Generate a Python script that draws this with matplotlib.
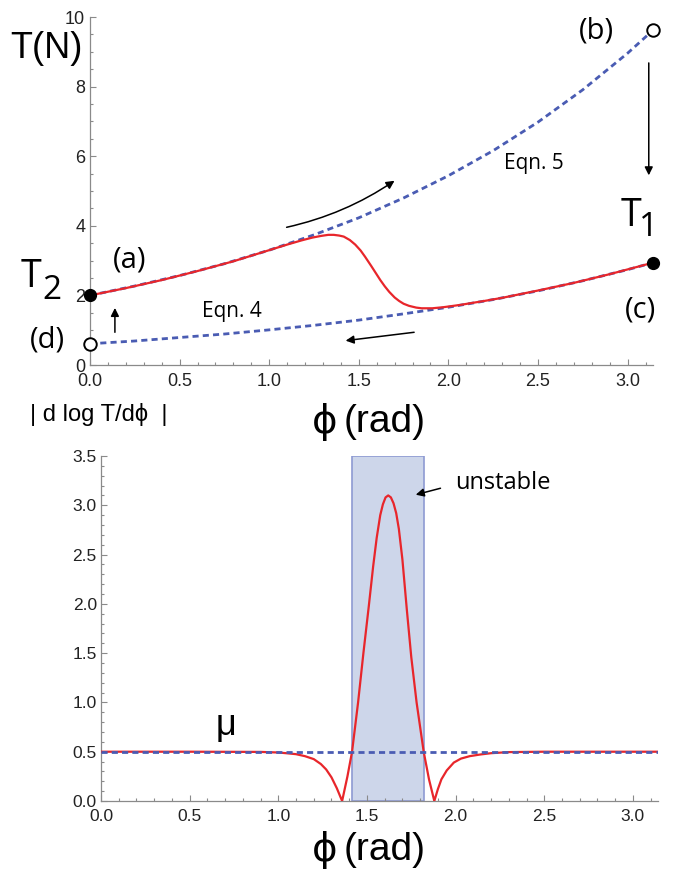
import numpy as np
import matplotlib
matplotlib.use("Agg")
import matplotlib.pyplot as plt
from matplotlib.ticker import MultipleLocator, FormatStrFormatter

PI = 3.1416

# top panel: tension along the contact
red_phi = [0.0, 0.2, 0.4, 0.6, 0.8, 1.0, 1.1, 1.18, 1.24, 1.29, 1.33, 1.36,
           1.39, 1.416, 1.45, 1.48, 1.51, 1.535, 1.57, 1.6, 1.62, 1.645, 1.67,
           1.70, 1.725, 1.75, 1.78, 1.82, 1.85, 1.88, 1.91, 1.93, 1.97, 2.0,
           2.07, 2.14, 2.2, 2.3, 2.5, 2.7, 2.9, PI]
red_T = [2.00, 2.21, 2.44, 2.70, 2.98, 3.30, 3.46, 3.58, 3.66, 3.71, 3.74, 3.74,
         3.72, 3.69, 3.59, 3.46, 3.29, 3.11, 2.84, 2.60, 2.44, 2.26, 2.10,
         1.94, 1.84, 1.76, 1.70, 1.65, 1.63, 1.63, 1.63, 1.64, 1.66, 1.68,
         1.73, 1.79, 1.84, 1.93, 2.14, 2.36, 2.61, 2.94]

eq_phi = [0.0, 0.25, 0.5, 0.75, 1.0, 1.25, 1.5, 1.75, 2.0, 2.25, 2.5, 2.75, 3.0, PI]
eqn4_T = [0.61, 0.69, 0.79, 0.89, 1.01, 1.14, 1.29, 1.47, 1.66, 1.88, 2.13, 2.42, 2.74, 2.94]
eqn5_T = [2.00, 2.27, 2.57, 2.91, 3.30, 3.74, 4.23, 4.80, 5.44, 6.16, 6.98, 7.91, 8.96, 9.62]

# end points (a)-(d)
open_pts = [(0.0, 0.61), (PI, 9.62)]
full_pts = [(0.0, 2.00), (PI, 2.94)]

# bottom panel: |d log T / d phi|
der_phi = [0.0, 0.5, 0.9, 1.0, 1.05, 1.1, 1.15, 1.2, 1.24, 1.27, 1.30, 1.33, 1.36,
           1.39, 1.416, 1.45, 1.48, 1.51, 1.535, 1.555, 1.575, 1.59, 1.605, 1.62,
           1.635, 1.65, 1.665, 1.68, 1.70, 1.725, 1.75, 1.78, 1.82, 1.85, 1.88,
           1.90, 1.92, 1.95, 1.99, 2.03, 2.08, 2.14, 2.2, 2.3, 2.5, PI]
der_val = [0.5, 0.5, 0.498, 0.492, 0.484, 0.475, 0.455, 0.425, 0.375, 0.32, 0.24, 0.13, 0.0,
           0.25, 0.5, 1.0, 1.5, 1.97, 2.38, 2.67, 2.90, 3.01, 3.08, 3.10,
           3.08, 3.02, 2.92, 2.76, 2.45, 1.94, 1.46, 1.0, 0.5, 0.22, 0.0,
           0.12, 0.22, 0.31, 0.39, 0.43, 0.455, 0.472, 0.485, 0.496, 0.5, 0.5]
mu_phi = [0.0, PI]
mu_val = [0.5, 0.5]
unstable = (1.416, 1.82)

RED = "#e8262b"
BLUE = "#4a5cb3"
GRAY = "#8a8a8a"
SANS = ["Liberation Sans", "DejaVu Sans"]
PHI = ["DejaVu Sans"]
MYR = ["Open Sans", "DejaVu Sans"]
DASH = (0, (2.2, 1.5))

W, H = 676, 869
fig = plt.figure(figsize=(W / 100, H / 100), dpi=100)


def px(x, y):
    return x / W, 1 - y / H


def style_axes(ax, fs, xpad, ypad):
    for s in ("top", "right"):
        ax.spines[s].set_visible(False)
    for s in ("left", "bottom"):
        ax.spines[s].set_color(GRAY)
        ax.spines[s].set_linewidth(0.9)
    ax.tick_params(which="both", direction="in", color=GRAY, width=0.8)
    ax.tick_params(which="major", length=4.5)
    ax.tick_params(which="minor", length=2.5)
    ax.tick_params(axis="x", pad=xpad)
    ax.tick_params(axis="y", pad=ypad)
    for lab in ax.get_xticklabels() + ax.get_yticklabels():
        lab.set_family(SANS)
        lab.set_fontsize(fs)
        lab.set_color("#222222")


def phi_label(x, y, size):
    # stroked phi glyph followed by the unit
    fig.text(*px(x, y), "\u03d5", family=PHI, fontsize=size, ha="right", va="center")
    fig.text(*px(x + 6, y), "(rad)", family=SANS, fontsize=size, ha="left", va="center")


# ---- top panel
ax1 = fig.add_axes([90 / W, 1 - 365 / H, (653 - 90) / W, 348 / H])
ax1.plot(eq_phi, eqn5_T, color=BLUE, lw=2.0, ls=DASH, zorder=2)
ax1.plot(eq_phi, eqn4_T, color=BLUE, lw=2.0, ls=DASH, zorder=2)
ax1.plot(red_phi, red_T, color=RED, lw=1.6, zorder=3)
for x, y in open_pts:
    ax1.plot(x, y, "o", ms=9, mfc="white", mec="black", mew=1.4, clip_on=False, zorder=5)
for x, y in full_pts:
    ax1.plot(x, y, "o", ms=8.5, color="black", clip_on=False, zorder=5)
ax1.set_xlim(0, PI)
ax1.set_ylim(0, 10)
ax1.xaxis.set_major_locator(MultipleLocator(0.5))
ax1.xaxis.set_minor_locator(MultipleLocator(0.1))
ax1.xaxis.set_major_formatter(FormatStrFormatter("%.1f"))
ax1.yaxis.set_major_locator(MultipleLocator(2))
ax1.yaxis.set_minor_locator(MultipleLocator(0.5))
style_axes(ax1, 13, 5.5, 3.5)

arr = dict(arrowstyle="-|>", color="black", lw=1.1, mutation_scale=12)
ax1.annotate("", xy=(1.712, 5.34), xytext=(1.082, 3.94),
             arrowprops=dict(arr, connectionstyle="arc3,rad=0.1"))
ax1.annotate("", xy=(1.411, 0.69), xytext=(1.824, 0.95), arrowprops=arr)
ax1.annotate("", xy=(3.118, 5.37), xytext=(3.118, 8.76), arrowprops=arr, annotation_clip=False)
ax1.annotate("", xy=(0.139, 1.72), xytext=(0.139, 0.86), arrowprops=arr)

ax1.text(0.792, 1.55, "Eqn. 4", family=MYR, fontsize=15, ha="center", va="center")
ax1.text(2.476, 5.80, "Eqn. 5", family=MYR, fontsize=15, ha="center", va="center")

fig.text(*px(46, 48), "T(N)", family=SANS, fontsize=26, ha="center", va="center")
fig.text(*px(130, 260), "(a)", family=MYR, fontsize=21, ha="center", va="center")
fig.text(*px(596, 31), "(b)", family=MYR, fontsize=21, ha="center", va="center")
fig.text(*px(641, 310), "(c)", family=MYR, fontsize=21, ha="center", va="center")
fig.text(*px(47, 340), "(d)", family=MYR, fontsize=21, ha="center", va="center")
fig.text(*px(31, 277), "T", family=MYR, fontsize=27, ha="center", va="center")
fig.text(*px(52, 291), "2", family=MYR, fontsize=24, ha="center", va="center")
fig.text(*px(631, 216), "T", family=MYR, fontsize=27, ha="center", va="center")
fig.text(*px(649, 228), "1", family=MYR, fontsize=24, ha="center", va="center")
phi_label(338, 422, 28)
fig.text(*px(99, 414), "| d log T/d\u03d5  |", family=SANS, fontsize=17, ha="center", va="center")

# ---- bottom panel
ax2 = fig.add_axes([101 / W, 1 - 801 / H, (658 - 101) / W, 345 / H])
ax2.axvspan(*unstable, ymin=0, ymax=1, facecolor="#cdd6ea", edgecolor="#8e9ad2", lw=1.2, zorder=1)
ax2.plot(der_phi, der_val, color=RED, lw=1.6, zorder=3)
ax2.plot(mu_phi, mu_val, color=BLUE, lw=2.0, ls=DASH, zorder=4)
ax2.set_xlim(0, PI)
ax2.set_ylim(0, 3.5)
ax2.xaxis.set_major_locator(MultipleLocator(0.5))
ax2.xaxis.set_minor_locator(MultipleLocator(0.1))
ax2.xaxis.set_major_formatter(FormatStrFormatter("%.1f"))
ax2.yaxis.set_major_locator(MultipleLocator(0.5))
ax2.yaxis.set_minor_locator(MultipleLocator(0.1))
ax2.yaxis.set_major_formatter(FormatStrFormatter("%.1f"))
style_axes(ax2, 12.5, 5.5, 3)

ax2.annotate("", xy=(1.76, 3.10), xytext=(1.93, 3.18), arrowprops=arr)
ax2.text(1.997, 3.225, "unstable", family=MYR, fontsize=17, ha="left", va="center")
ax2.text(0.705, 0.77, "\u03bc", family=SANS, fontsize=26, ha="center", va="center")
phi_label(338, 850, 28)

fig.savefig("out.png", dpi=100)
